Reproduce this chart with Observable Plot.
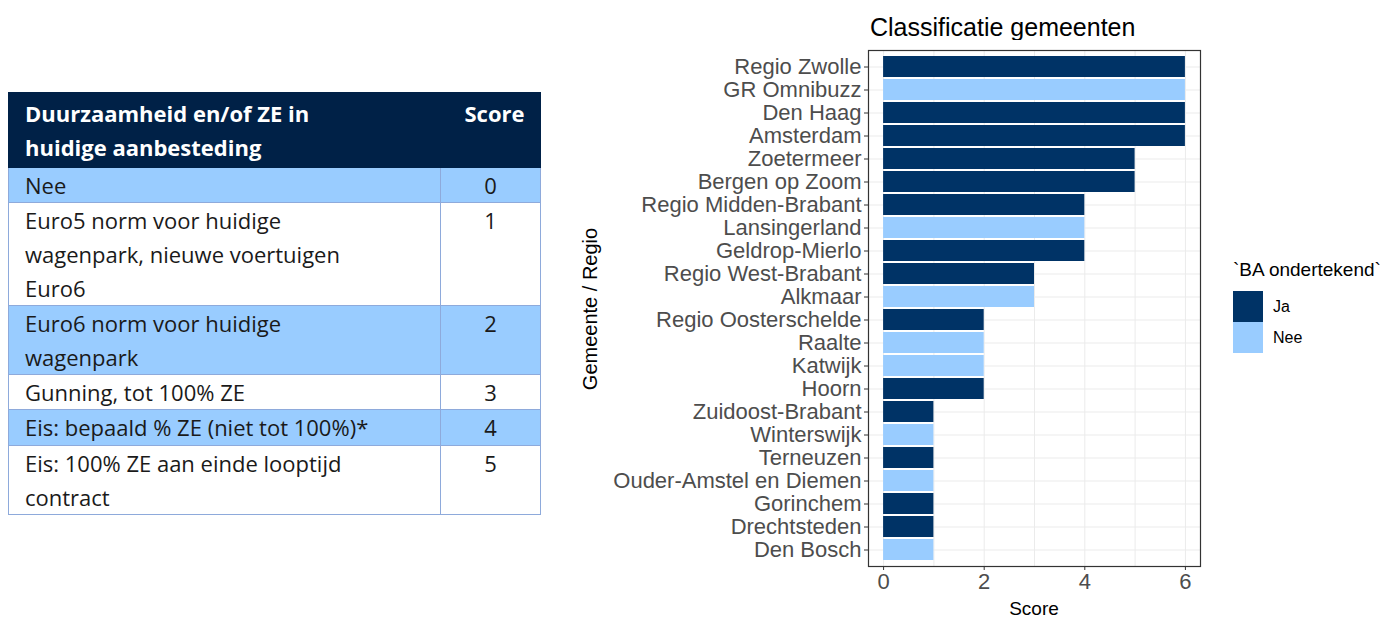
<!DOCTYPE html>
<html><head><meta charset="utf-8">
<script src="https://cdn.jsdelivr.net/npm/d3@7"></script>
<script src="https://cdn.jsdelivr.net/npm/@observablehq/plot@0.6"></script>
<style>
body{margin:0;background:#fff;width:1398px;height:620px;position:relative;overflow:hidden;font-family:"Liberation Sans",Arial,sans-serif;}
#tbl{position:absolute;left:8px;top:92px;width:532px;border-collapse:collapse;font-family:"Open Sans",Lato,sans-serif;font-size:22px;color:#1a1a1a;table-layout:fixed;}
#tbl td,#tbl th{border:1.5px solid #8EAADB;padding:0 0 0 16px;vertical-align:top;line-height:34px;white-space:nowrap;overflow:visible;}
#tbl th{background:#002147;color:#fff;font-weight:bold;text-align:left;padding-top:3px;padding-bottom:3px;border-color:#002147;}
#tbl td.s,#tbl th.s{text-align:center;padding:0;width:99px;}
#tbl th.s{padding-left:8px;padding-top:3px;}
#tbl tr.b td{background:#99CCFF;}
#title{position:absolute;left:870px;top:13px;font-size:25px;color:#000;}
#chart{position:absolute;left:560px;top:40px;}
#xl{position:absolute;left:1034px;top:598px;transform:translateX(-50%);font-size:19px;}
#yl{position:absolute;left:590px;top:309px;transform:translate(-50%,-50%) rotate(-90deg);font-size:20px;white-space:nowrap;}
#leg{position:absolute;left:1233px;top:259px;font-size:19px;}
#leg .k{display:flex;align-items:center;height:31px;font-size:16px;}
#leg .k span{display:inline-block;width:30px;height:31px;margin-right:10px;}
</style></head><body>
<table id="tbl"></table>
<div id="title">Classificatie gemeenten</div>
<div id="chart"></div>
<div id="xl">Score</div>
<div id="yl">Gemeente / Regio</div>
<div id="leg"></div>
<script>
// Table data (line breaks as in the reference)
const tableHeader = [["Duurzaamheid en/of ZE in", "huidige aanbesteding"], "Score"];
const tableRows = [
  ["Nee"],
  ["Euro5 norm voor huidige", "wagenpark, nieuwe voertuigen", "Euro6"],
  ["Euro6 norm voor huidige", "wagenpark"],
  ["Gunning, tot 100% ZE"],
  ["Eis: bepaald % ZE (niet tot 100%)*"],
  ["Eis: 100% ZE aan einde looptijd", "contract"]
];
const tableScores = [0, 1, 2, 3, 4, 5];
const tableRowHeights = [35, 100, 69, 35, 36, 65];

// Chart data
const names = ["Regio Zwolle","GR Omnibuzz","Den Haag","Amsterdam","Zoetermeer","Bergen op Zoom","Regio Midden-Brabant","Lansingerland","Geldrop-Mierlo","Regio West-Brabant","Alkmaar","Regio Oosterschelde","Raalte","Katwijk","Hoorn","Zuidoost-Brabant","Winterswijk","Terneuzen","Ouder-Amstel en Diemen","Gorinchem","Drechtsteden","Den Bosch"];
const scores = [6,6,6,6,5,5,4,4,4,3,3,2,2,2,2,1,1,1,1,1,1,1];
const signed = ["Ja","Nee","Ja","Ja","Ja","Ja","Ja","Nee","Ja","Ja","Nee","Ja","Nee","Nee","Ja","Ja","Nee","Ja","Nee","Ja","Ja","Nee"];
const legendKeys = ["Ja","Nee"];
const legendColors = ["#003366","#99CCFF"];
const xTicks = [0,2,4,6];
const xGrid = [0,1,2,3,4,5,6];

// Build table
const tbl = document.getElementById("tbl");
let h = `<colgroup><col style="width:432px"><col style="width:100px"></colgroup>`;
h += `<tr style="height:74px"><th>${tableHeader[0].join("<br>")}</th><th class="s">${tableHeader[1]}</th></tr>`;
tableRows.forEach((r,i)=>{
  h += `<tr class="${i%2===0?'b':''}" style="height:${tableRowHeights[i]}px"><td>${r.join("<br>")}</td><td class="s">${tableScores[i]}</td></tr>`;
});
tbl.innerHTML = h;

const data = names.map((n,i)=>({name:n, score:scores[i], ba:signed[i]}));

const plot = Plot.plot({
  width: 838, height: 580,
  marginLeft: 308, marginRight: 198, marginTop: 10, marginBottom: 54,
  style: {fontFamily: '"Liberation Sans", Arial, sans-serif', fontSize: "22px", background: "#fff"},
  x: {domain: [-0.3, 6.3]},
  y: {domain: names, paddingInner: 0.1, paddingOuter: 0.15},
  color: {domain: legendKeys, range: legendColors},
  marks: [
    Plot.gridX(xGrid, {stroke: "#EBEBEB", strokeOpacity: 1, strokeWidth: 1}),
    Plot.gridY(names, {stroke: "#EBEBEB", strokeOpacity: 1, strokeWidth: 1}),
    Plot.barX(data, {x: "score", y: "name", fill: "ba"}),
    Plot.frame({stroke: "#333", strokeWidth: 1.2}),
    Plot.axisX(xTicks, {label: null, tickSize: 4, tickPadding: 3, stroke: "#333", fill: "#4D4D4D", fontSize: 22}),
    Plot.axisY({label: null, tickSize: 4, tickPadding: 3, stroke: "#333", fill: "#4D4D4D", fontSize: 22})
  ]
});
document.getElementById("chart").appendChild(plot);

// Legend
let lg = `<div style="margin-bottom:10px">\`BA ondertekend\`</div>`;
legendKeys.forEach((k,i)=>{ lg += `<div class="k"><span style="background:${legendColors[i]}"></span>${k}</div>`; });
document.getElementById("leg").innerHTML = lg;
</script>
</body></html>
